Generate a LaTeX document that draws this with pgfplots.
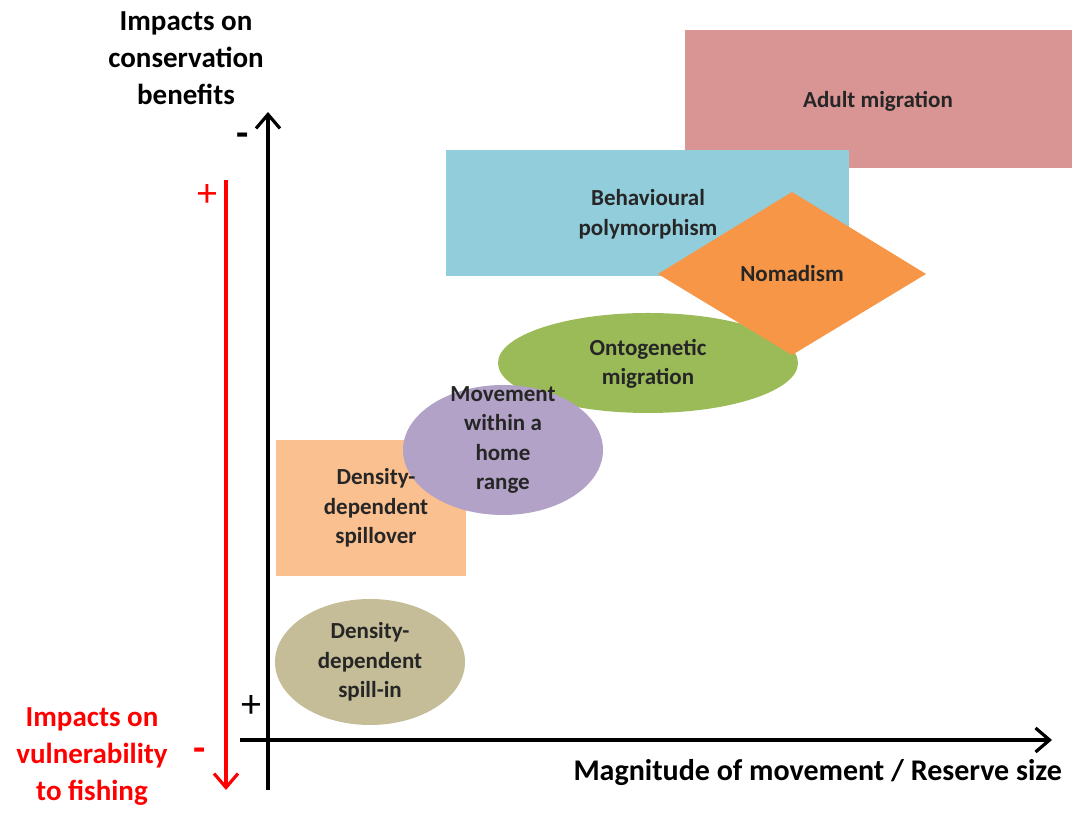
\documentclass[border=0pt]{standalone}
\usepackage{pgfplots}
\pgfplotsset{compat=1.18}
\usepackage{fontspec}
\setmainfont{Carlito}
\usetikzlibrary{arrows.meta}

\definecolor{adultc}{HTML}{D99594}
\definecolor{behavc}{HTML}{92CDDC}
\definecolor{nomadc}{HTML}{F79646}
\definecolor{ontoc}{HTML}{9BBB59}
\definecolor{homec}{HTML}{B2A2C7}
\definecolor{spillc}{HTML}{FAC090}
\definecolor{spillinc}{HTML}{C4BD97}
\definecolor{redax}{HTML}{FF0000}

\begin{document}
\begin{tikzpicture}
\begin{axis}[
    scale only axis,
    width=536pt,
    height=403.5pt,
    xmin=0, xmax=1072,
    ymin=0, ymax=807,
    y dir=reverse,
    axis lines=none,
    ticks=none,
    clip=false,
]
\path (rel axis cs:0,0) rectangle (rel axis cs:1,1);

% boxes, back to front
\addplot[fill=adultc, draw=none] coordinates {(685,30) (1072,30) (1072,168) (685,168)} --cycle;
\addplot[fill=behavc, draw=none] coordinates {(446,150) (849,150) (849,276) (446,276)} --cycle;
\fill[ontoc] (axis cs:648,363) ellipse [x radius=150, y radius=50];
\addplot[fill=nomadc, draw=none] coordinates {(658,274) (792,192) (926,274) (792,355)} --cycle;
\addplot[fill=spillc, draw=none] coordinates {(276,440) (466,440) (466,576) (276,576)} --cycle;
\fill[homec] (axis cs:503,450) ellipse [x radius=100, y radius=65];
\fill[spillinc] (axis cs:370,662) ellipse [x radius=95, y radius=63];

% axes
\draw[line width=1.6pt, -{Straight Barb[length=7pt,width=12pt]}] (axis cs:268,790) -- (axis cs:268,112);
\draw[line width=1.6pt, -{Straight Barb[length=7pt,width=12pt]}] (axis cs:240,740) -- (axis cs:1052,740);
\draw[redax, line width=1.6pt, -{Straight Barb[length=7pt,width=12pt]}] (axis cs:226,180) -- (axis cs:226,790);

% signs
\node[font=\bfseries\fontsize{20}{20}\selectfont] at (axis cs:243,140) {-};
\node[font=\fontsize{20}{20}\selectfont] at (axis cs:251,707) {+};
\node[redax, font=\fontsize{20}{20}\selectfont] at (axis cs:207,196) {+};
\node[redax, font=\bfseries\fontsize{20}{20}\selectfont] at (axis cs:200,755) {-};

% axis titles
\node[font=\bfseries\fontsize{14.5}{18.5}\selectfont, align=center] at (axis cs:186,58)
  {Impacts on\\conservation\\benefits};
\node[redax, font=\bfseries\fontsize{14.5}{18.5}\selectfont, align=center] at (axis cs:92,757)
  {Impacts on\\vulnerability\\to fishing};
\node[font=\bfseries\fontsize{15}{16}\selectfont, anchor=east] at (axis cs:1069,773)
  {Magnitude of movement / Reserve size};

% labels in boxes
\tikzset{lab/.style={font=\bfseries\fontsize{11.5}{14.8}\selectfont, align=center, text=black!85}}
\node[lab] at (axis cs:878,101) {Adult migration};
\node[lab] at (axis cs:648,214) {Behavioural\\polymorphism};
\node[lab] at (axis cs:792,274) {Nomadism};
\node[lab] at (axis cs:648,364) {Ontogenetic\\migration};
\node[lab] at (axis cs:503,440) {Movement\\within a\\home\\range};
\node[lab] at (axis cs:376,508) {Density-\\dependent\\spillover};
\node[lab] at (axis cs:370,662) {Density-\\dependent\\spill-in};
\end{axis}
\end{tikzpicture}
\end{document}
